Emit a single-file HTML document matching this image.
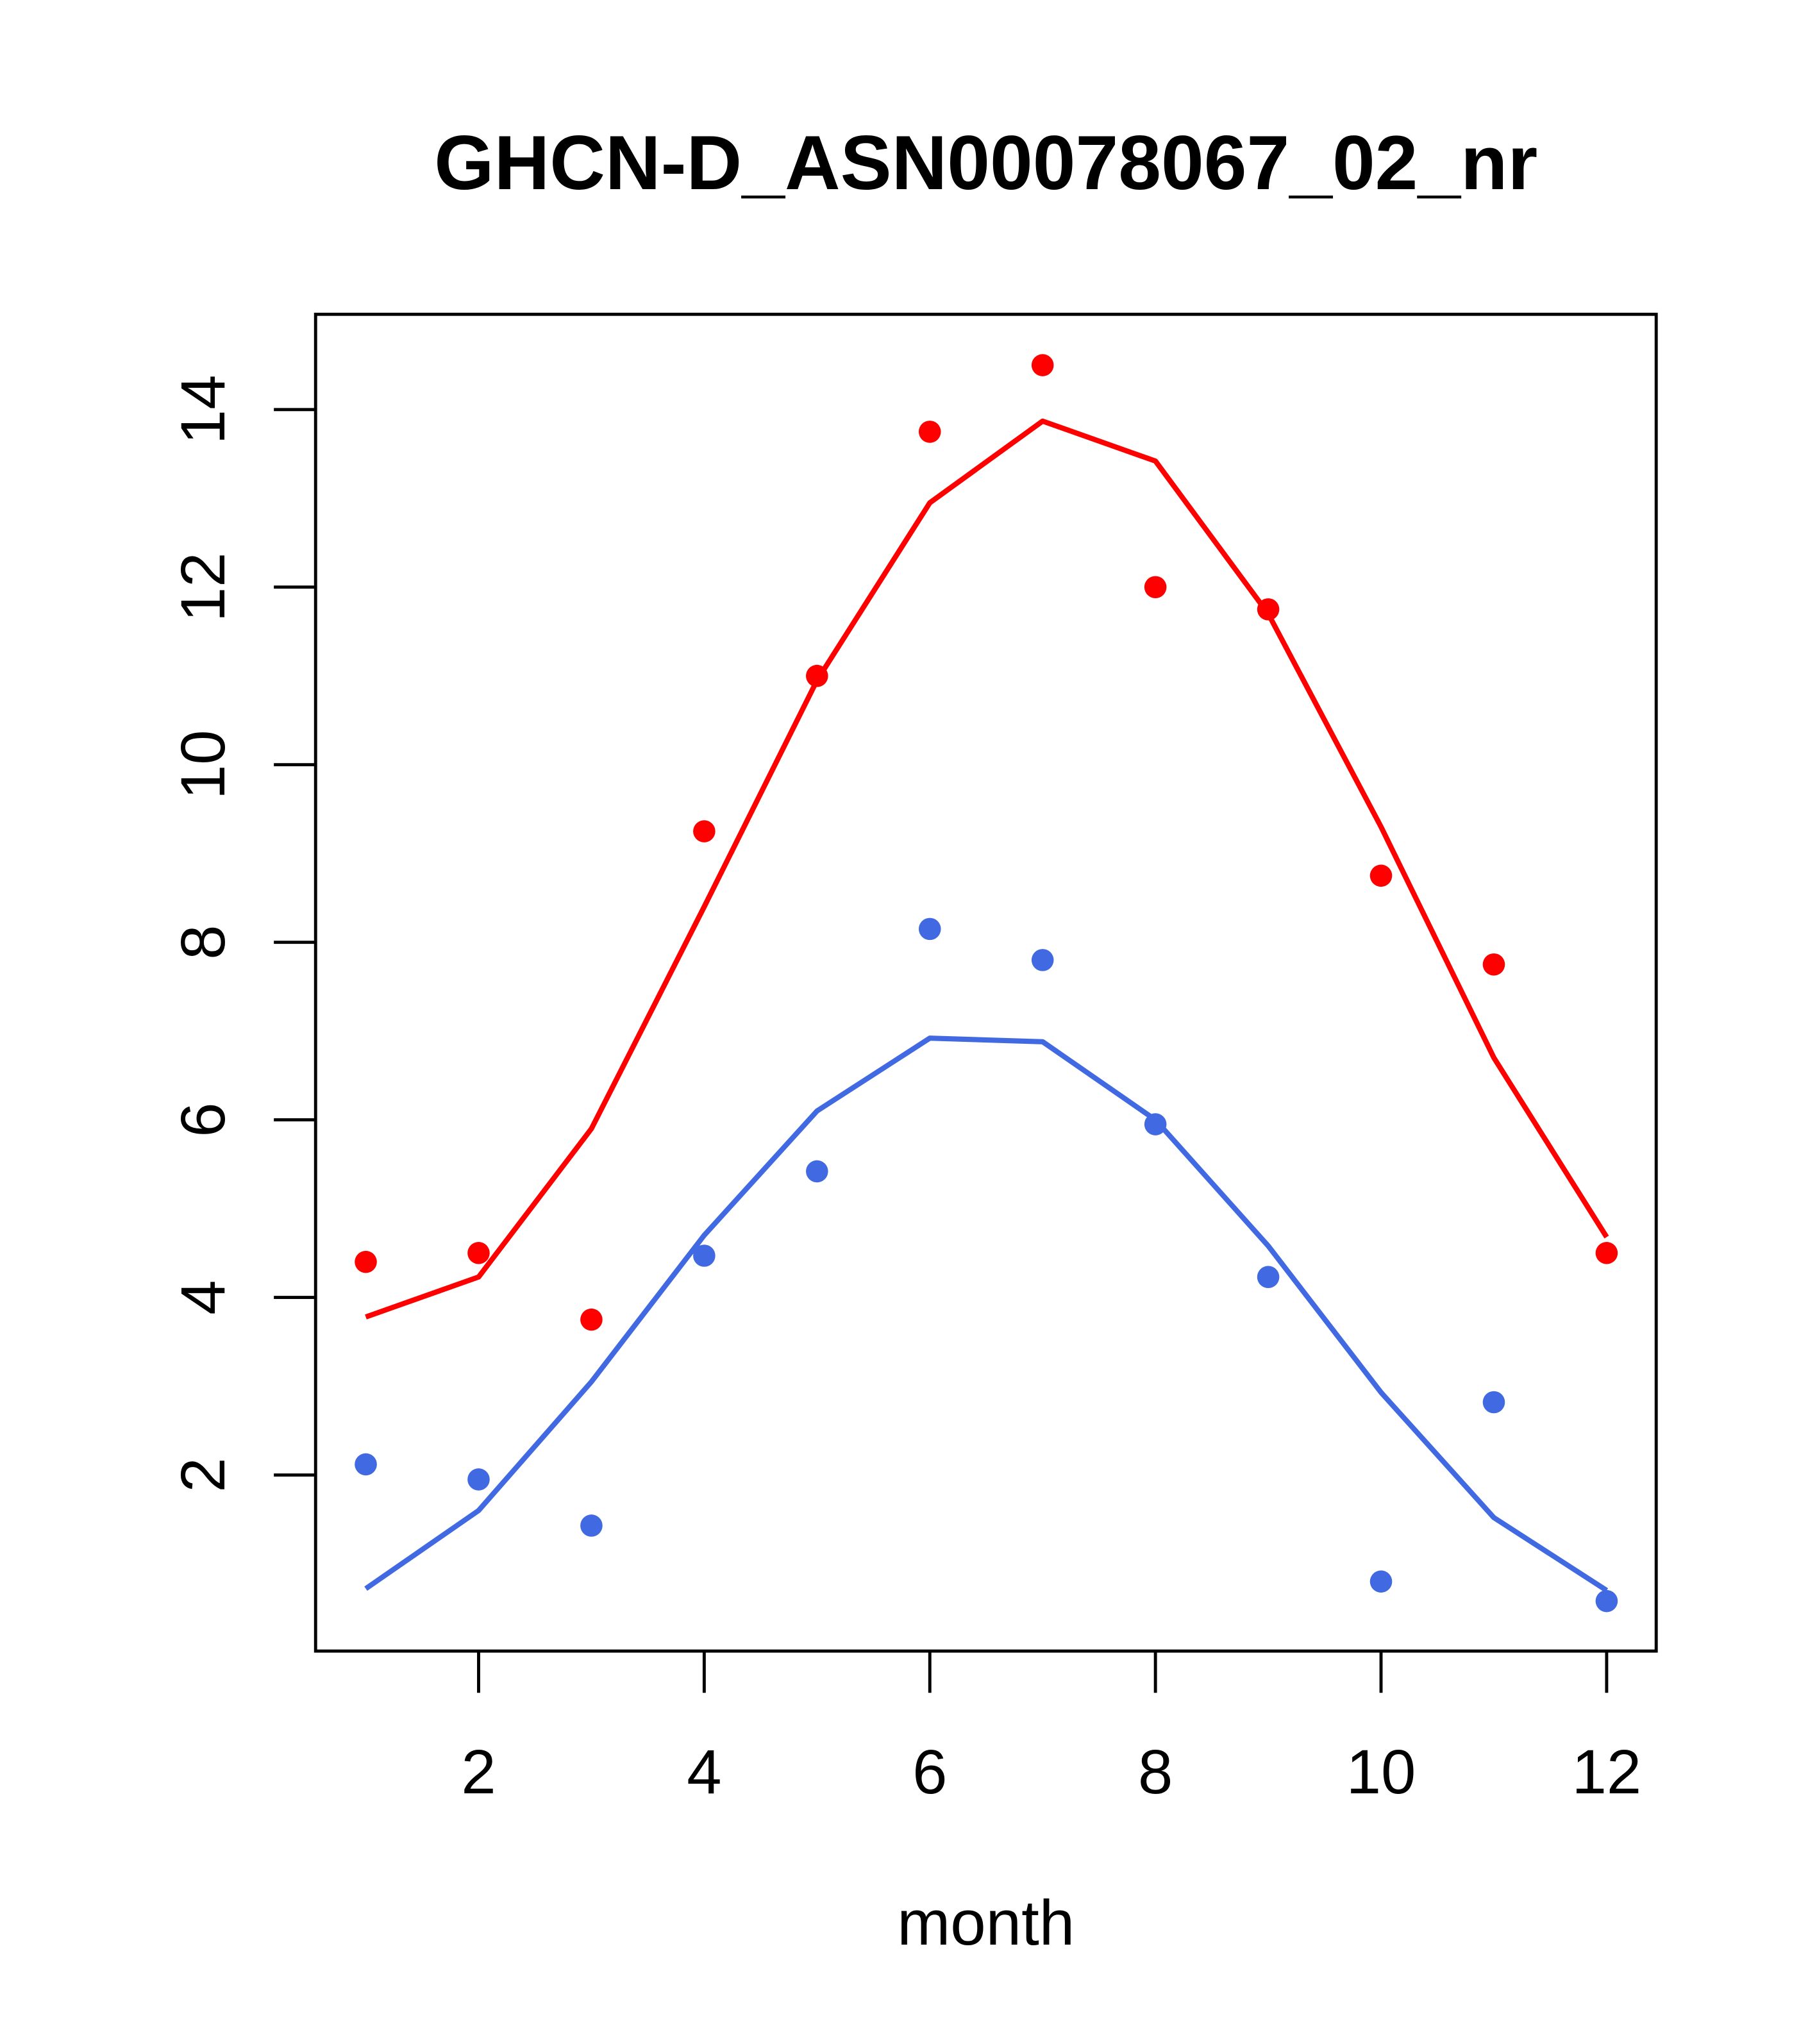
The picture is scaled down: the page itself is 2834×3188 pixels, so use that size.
<!DOCTYPE html>
<html><head><meta charset="utf-8"><style>
html,body{margin:0;padding:0;background:#fff;}
svg{display:block;}
</style></head><body>
<svg id="chart" width="2834" height="3188" viewBox="0 0 1393.3 1567.3" preserveAspectRatio="none" xmlns="http://www.w3.org/2000/svg" font-family="Liberation Sans, Arial, sans-serif">
<rect width="1393.3" height="1567.3" fill="#fff"/>
<text x="756" y="145" text-anchor="middle" font-size="59" font-weight="bold">GHCN-D_ASN00078067_02_nr</text>
<rect x="242" y="241" width="1028" height="1025" fill="none" stroke="#000" stroke-width="2.4"/>
<text x="756" y="1491" text-anchor="middle" font-size="49">month</text>
<g id="axes"></g>
<g id="series"></g>
</svg>
<script>
const months = [1,2,3,4,5,6,7,8,9,10,11,12];
const redPoints = [4.4,4.5,3.75,9.25,11.0,13.75,14.5,12.0,11.75,8.75,7.75,4.5];
const redLine = [3.78,4.23,5.9,8.4,10.95,12.95,13.87,13.42,11.7,9.3,6.7,4.68];
const bluePoints = [2.12,1.95,1.43,4.47,5.42,8.15,7.8,5.95,4.23,0.8,2.82,0.58];
const blueLine = [0.72,1.6,3.05,4.7,6.1,6.92,6.88,6.0,4.58,2.93,1.52,0.7];
const xTicks = [2,4,6,8,10,12];
const yTicks = [2,4,6,8,10,12,14];

const NS = "http://www.w3.org/2000/svg";
function xs(m){ return 280.5 + (m-1)*86.5; }
function ys(v){ return 1131 - (v-2)*68.08; }
function mk(tag, attrs, parent){
  const e = document.createElementNS(NS, tag);
  for (const k in attrs) e.setAttribute(k, attrs[k]);
  parent.appendChild(e); return e;
}
const axes = document.getElementById('axes');
const series = document.getElementById('series');
xTicks.forEach(t => {
  const l = mk('line', {x1:xs(t), x2:xs(t), y1:1266, y2:1298, stroke:'#000', 'stroke-width':2.4}, axes);
  
  
  const tx = mk('text', {x:xs(t), y:1375, 'text-anchor':'middle', 'font-size':48}, axes);
  tx.textContent = t;
  
  
});
yTicks.forEach(t => {
  const l = mk('line', {x1:210, x2:242, y1:ys(t), y2:ys(t), stroke:'#000', 'stroke-width':2.4}, axes);
  
  
  const tx = mk('text', {x:0, y:0, 'text-anchor':'middle', 'font-size':48, transform:'translate(172,' + ys(t) + ') rotate(-90)'}, axes);
  tx.textContent = t;
  
  
});
function drawLine(vals, color, name){
  const p = mk('polyline', {points: vals.map((v,i)=>xs(months[i])+','+ys(v)).join(' '), fill:'none', stroke:color, 'stroke-width':4, 'stroke-linejoin':'round'}, series);
  
  
}
function drawPoints(vals, color, name){
  vals.forEach((v,i) => {
    const c = mk('circle', {cx:xs(months[i]), cy:ys(v), r:8.5, fill:color}, series);
    
    
  });
}
drawLine(redLine, '#ff0000', 'red-fit-line');
drawLine(blueLine, '#4169e1', 'blue-fit-line');
drawPoints(redPoints, '#ff0000', 'red-point');
drawPoints(bluePoints, '#4169e1', 'blue-point');
</script>
</body></html>
